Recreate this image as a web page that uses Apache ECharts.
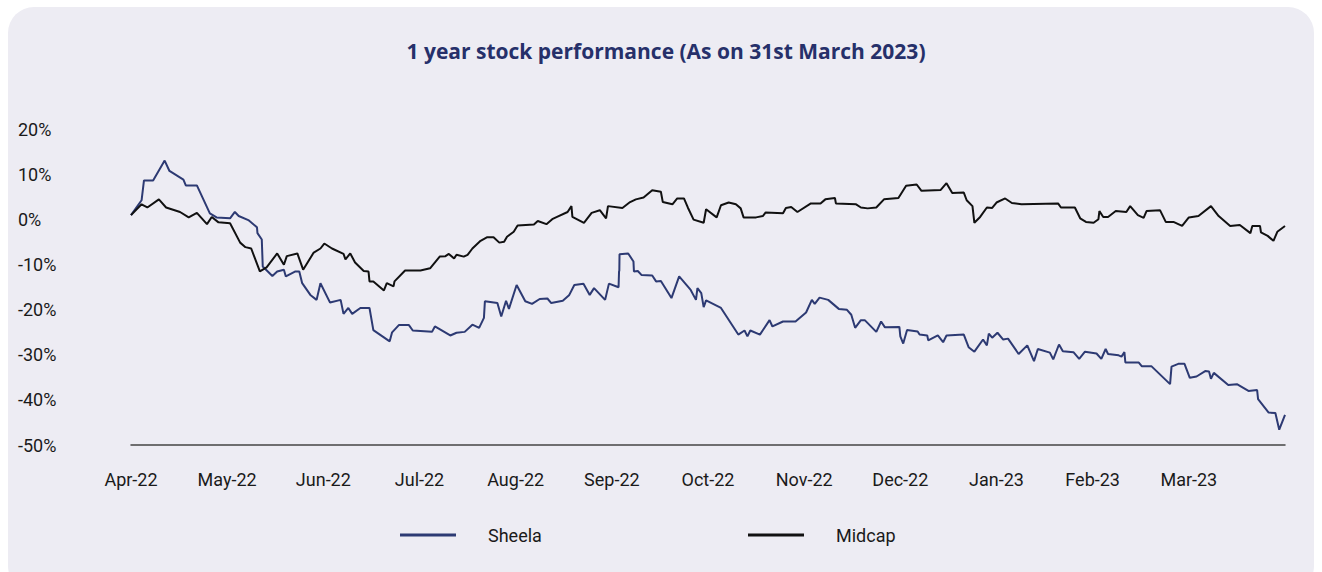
<!DOCTYPE html>
<html>
<head>
<meta charset="utf-8">
<script src="https://cdn.jsdelivr.net/npm/echarts@6/dist/echarts.min.js"></script>
<style>
  html, body { margin: 0; padding: 0; background: #fff; }
  #chart { width: 1322px; height: 572px; }
</style>
</head>
<body>
<div id="chart"></div>
<script>
// x = position in months from start of Apr-22 (0..12), y = % return
const monthLabels = ["Apr-22", "May-22", "Jun-22", "Jul-22", "Aug-22", "Sep-22",
  "Oct-22", "Nov-22", "Dec-22", "Jan-23", "Feb-23", "Mar-23"];
const yTicks = [20, 10, 0, -10, -20, -30, -40, -50];

const sheela = [[0,1.0],[0.11,4.3],[0.135,8.7],[0.23,8.7],[0.35,13.1],[0.40,10.8],[0.545,8.9],[0.57,7.6],[0.685,7.6],[0.82,1.4],
  [0.89,0.5],[1.03,0.3],[1.08,1.7],[1.12,0.8],[1.22,-0.1],[1.31,-1.7],[1.315,-3.0],[1.36,-4.4],[1.37,-10.4],[1.47,-12.5],
  [1.52,-11.5],[1.59,-11.1],[1.61,-12.6],[1.71,-11.5],[1.75,-11.5],[1.78,-14.1],[1.865,-16.7],[1.93,-17.8],[1.97,-14.1],[2.07,-18.4],
  [2.18,-17.8],[2.21,-20.9],[2.26,-19.6],[2.30,-20.9],[2.385,-19.6],[2.48,-19.6],[2.52,-24.5],[2.69,-27.0],[2.715,-25.0],[2.785,-23.4],
  [2.89,-23.4],[2.93,-24.6],[3.13,-24.9],[3.16,-23.7],[3.32,-25.7],[3.385,-25.1],[3.47,-24.9],[3.55,-23.3],[3.62,-24.0],[3.67,-21.8],
  [3.68,-18.1],[3.81,-18.5],[3.85,-21.5],[3.90,-18.0],[3.93,-19.8],[4.01,-14.5],[4.10,-18.1],[4.17,-18.7],[4.25,-17.6],[4.33,-17.5],
  [4.37,-18.5],[4.49,-18.0],[4.555,-16.8],[4.61,-14.5],[4.705,-14.2],[4.77,-16.7],[4.815,-15.2],[4.93,-17.8],[4.97,-14.2],[5.07,-15.0],
  [5.075,-11.5],[5.078,-11.3],[5.08,-7.7],[5.17,-7.5],[5.225,-9.3],[5.23,-11.5],[5.27,-11.4],[5.31,-12.3],[5.42,-12.4],[5.46,-13.7],
  [5.51,-13.6],[5.62,-17.4],[5.70,-12.6],[5.82,-15.6],[5.875,-17.8],[5.89,-15.2],[5.93,-16.3],[5.955,-19.4],[5.98,-17.9],[6.135,-19.6],
  [6.315,-25.5],[6.38,-24.6],[6.41,-25.9],[6.44,-24.6],[6.54,-25.5],[6.64,-22.3],[6.67,-23.7],[6.78,-22.6],[6.91,-22.6],[7.02,-20.6],
  [7.08,-17.8],[7.11,-18.7],[7.16,-17.3],[7.25,-17.8],[7.36,-19.8],[7.445,-20.0],[7.49,-21.1],[7.53,-24.0],[7.59,-22.3],[7.63,-22.3],
  [7.75,-24.9],[7.80,-22.6],[7.84,-23.9],[7.99,-23.8],[8.00,-25.9],[8.03,-27.5],[8.07,-24.5],[8.18,-24.8],[8.20,-25.5],[8.28,-25.7],
  [8.29,-26.8],[8.39,-25.7],[8.445,-27.2],[8.48,-25.7],[8.66,-25.5],[8.71,-28.3],[8.77,-29.3],[8.86,-26.6],[8.90,-27.9],[8.92,-25.3],
  [8.955,-26.2],[9.01,-25.1],[9.07,-26.6],[9.12,-26.4],[9.23,-29.8],[9.32,-27.9],[9.39,-31.4],[9.43,-28.7],[9.555,-29.5],[9.59,-31.0],
  [9.65,-27.7],[9.69,-29.2],[9.80,-29.4],[9.86,-30.9],[9.92,-29.3],[10.04,-29.7],[10.09,-30.9],[10.135,-28.7],[10.16,-29.8],[10.27,-30.1],
  [10.30,-30.4],[10.33,-29.4],[10.34,-31.7],[10.48,-31.7],[10.51,-32.5],[10.61,-32.5],[10.805,-36.5],[10.82,-32.6],[10.89,-32.0],[10.955,-32.0],
  [11.01,-35.1],[11.08,-34.8],[11.17,-33.6],[11.21,-33.7],[11.23,-35.3],[11.26,-34.0],[11.41,-36.7],[11.50,-36.5],[11.62,-38.0],[11.71,-37.8],
  [11.72,-39.8],[11.83,-42.8],[11.90,-42.9],[11.94,-46.6],[12.0,-43.3]];

const midcap = [[0,1.0],[0.11,3.4],[0.17,2.7],[0.29,4.5],[0.365,2.7],[0.51,1.7],[0.60,0.5],[0.685,1.5],[0.79,-1.0],[0.84,0.6],
  [0.91,-0.6],[1.03,-0.8],[1.135,-5.1],[1.19,-6.1],[1.25,-6.4],[1.34,-11.5],[1.41,-10.6],[1.52,-7.5],[1.59,-10.0],[1.62,-8.1],
  [1.73,-7.5],[1.79,-11.1],[1.90,-7.3],[1.97,-6.4],[2.01,-5.3],[2.09,-6.4],[2.21,-7.6],[2.23,-8.8],[2.28,-7.5],[2.33,-9.5],
  [2.42,-11.4],[2.47,-11.5],[2.48,-13.7],[2.52,-13.7],[2.63,-15.7],[2.66,-14.1],[2.73,-14.8],[2.74,-13.7],[2.85,-11.3],[3.01,-11.3],
  [3.11,-10.8],[3.21,-8.2],[3.27,-8.1],[3.305,-7.6],[3.36,-8.6],[3.385,-7.8],[3.46,-8.2],[3.50,-7.8],[3.55,-6.4],[3.635,-4.7],
  [3.705,-3.9],[3.77,-3.9],[3.83,-5.1],[3.88,-4.9],[3.91,-3.8],[3.98,-2.7],[4.02,-1.3],[4.19,-1.1],[4.23,-0.3],[4.32,-1.0],
  [4.38,0.1],[4.43,0.6],[4.54,1.7],[4.58,3.0],[4.59,0.6],[4.71,-0.7],[4.79,1.5],[4.875,2.1],[4.94,0.3],[4.96,3.0],
  [5.11,2.6],[5.19,3.9],[5.25,4.5],[5.33,4.9],[5.42,6.5],[5.51,6.2],[5.53,3.9],[5.63,3.4],[5.68,4.7],[5.75,4.7],
  [5.79,2.7],[5.85,0.0],[5.955,-0.7],[5.98,2.3],[6.09,0.5],[6.135,3.2],[6.215,3.8],[6.29,3.4],[6.34,2.5],[6.37,0.5],
  [6.50,0.5],[6.57,0.8],[6.60,1.6],[6.78,1.4],[6.81,2.6],[6.865,2.8],[6.93,1.7],[7.07,3.6],[7.17,3.6],[7.22,4.5],
  [7.32,4.8],[7.33,3.6],[7.54,3.4],[7.59,2.7],[7.66,2.5],[7.75,2.7],[7.83,4.5],[7.98,4.8],[8.06,7.5],[8.17,7.8],
  [8.22,6.4],[8.42,6.6],[8.48,8.1],[8.54,5.9],[8.66,6.0],[8.69,4.3],[8.75,3.0],[8.77,-0.7],[8.83,0.6],[8.90,2.7],
  [8.955,2.6],[9.00,3.8],[9.09,4.7],[9.16,3.7],[9.26,3.4],[9.64,3.6],[9.67,2.7],[9.815,2.7],[9.87,0.3],[9.93,-0.5],
  [10.01,-0.7],[10.06,0.1],[10.07,1.9],[10.11,0.6],[10.16,0.6],[10.24,1.9],[10.35,1.7],[10.39,3.0],[10.47,1.0],[10.53,0.4],
  [10.56,1.9],[10.70,2.1],[10.76,-0.5],[10.84,-0.5],[10.93,-1.4],[11.00,0.5],[11.10,0.8],[11.23,3.0],[11.31,0.8],[11.43,-1.4],
  [11.53,-1.2],[11.64,-3.0],[11.66,-1.4],[11.74,-1.4],[11.75,-2.8],[11.82,-3.6],[11.88,-4.7],[11.92,-2.7],[12.0,-1.4]];

const chart = echarts.init(document.getElementById("chart"), null, { renderer: "svg" });

const labelFont = "Roboto, 'Noto Sans', sans-serif";

const option = {
  animation: false,
  graphic: [
    {
      type: "rect",
      z: -10,
      silent: true,
      shape: { x: 8, y: 7, width: 1306, height: 585, r: 26 },
      style: { fill: "#EDECF3" },
    },
  ],
  title: {
    text: "1 year stock performance (As on 31st March 2023)",
    left: 661,
    textAlign: "center",
    top: 35,
    textStyle: {
      fontFamily: "'Open Sans', Roboto, sans-serif",
      fontSize: 21,
      fontWeight: "bold",
      color: "#26306A",
    },
  },
  legend: [
    {
      data: ["Sheela"],
      left: 400,
      top: 526,
      padding: 0,
      icon: "rect",
      itemWidth: 56,
      itemHeight: 3,
      textStyle: { fontFamily: labelFont, fontSize: 18, color: "#1a1a1a", padding: [0, 0, 0, 27] },
    },
    {
      data: ["Midcap"],
      left: 748,
      top: 526,
      padding: 0,
      icon: "rect",
      itemWidth: 56,
      itemHeight: 3,
      textStyle: { fontFamily: labelFont, fontSize: 18, color: "#1a1a1a", padding: [0, 0, 0, 27] },
    },
  ],
  grid: { left: 131, right: 37, top: 129.5, bottom: 127 },
  xAxis: {
    type: "value",
    min: 0,
    max: 12,
    interval: 1,
    axisLine: { show: true, onZero: false, lineStyle: { color: "#444", width: 1.5 } },
    axisTick: { show: false },
    splitLine: { show: false },
    axisLabel: {
      margin: 25,
      fontFamily: labelFont,
      fontSize: 18,
      color: "#1a1a1a",
      formatter: (v) => monthLabels[v] || "",
    },
  },
  yAxis: {
    type: "value",
    min: yTicks[yTicks.length - 1],
    max: yTicks[0],
    interval: 10,
    axisLine: { show: false },
    axisTick: { show: false },
    splitLine: { show: false },
    axisLabel: {
      align: "left",
      margin: 113,
      fontFamily: labelFont,
      fontSize: 18,
      color: "#1a1a1a",
      formatter: (v) => v + "%",
    },
  },
  series: [
    {
      name: "Sheela",
      type: "line",
      data: sheela,
      showSymbol: false,
      color: "#2D3A73",
      lineStyle: { width: 2, color: "#2D3A73" },
    },
    {
      name: "Midcap",
      type: "line",
      data: midcap,
      showSymbol: false,
      color: "#111111",
      lineStyle: { width: 2, color: "#111111" },
    },
  ],
};
chart.setOption(option);
</script>
</body>
</html>
